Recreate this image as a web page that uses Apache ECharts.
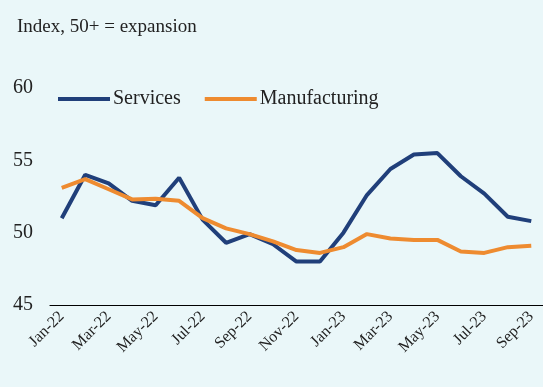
<!DOCTYPE html>
<html><head><meta charset="utf-8">
<script src="https://cdn.jsdelivr.net/npm/echarts@6/dist/echarts.min.js"></script>
<style>html,body{margin:0;padding:0;background:#EAF7F9;}#c{width:543px;height:387px;}</style>
</head><body><div id="c"></div>
<script>
const categories = ["Jan-22","Feb-22","Mar-22","Apr-22","May-22","Jun-22","Jul-22","Aug-22","Sep-22","Oct-22","Nov-22","Dec-22","Jan-23","Feb-23","Mar-23","Apr-23","May-23","Jun-23","Jul-23","Aug-23","Sep-23"];
const services = [51.0,54.0,53.4,52.2,51.9,53.8,50.9,49.3,49.9,49.2,48.0,48.0,50.0,52.6,54.4,55.4,55.5,53.9,52.7,51.1,50.8];
const manufacturing = [53.1,53.7,53.0,52.3,52.35,52.2,51.0,50.3,49.9,49.4,48.8,48.6,49.0,49.9,49.6,49.5,49.5,48.7,48.6,49.0,49.1];
const yTicks = [45,50,55,60];
const FONT = "Liberation Serif";
const chart = echarts.init(document.getElementById('c'));
chart.setOption({
  backgroundColor: '#EAF7F9',
  animation: false,
  title: {text: 'Index, 50+ = expansion', left: 12, top: 13, textStyle: {fontFamily: FONT, fontSize: 19, fontWeight: 'normal', color: '#222'}},
  legend: {
    left: 53, top: 84, itemWidth: 52, itemHeight: 4, itemGap: 24,
    icon: 'rect',
    textStyle: {fontFamily: FONT, fontSize: 20, color: '#222', padding: [0,0,0,-2]},
    data: ['Services','Manufacturing']
  },
  grid: {left: 50, top: 88, width: 497, height: 217},
  xAxis: {
    type: 'category', data: categories, boundaryGap: true,
    axisLine: {lineStyle: {color: '#000', width: 1.2}},
    axisTick: {show: false},
    axisLabel: {interval: 1, rotate: 45, fontFamily: FONT, fontSize: 16, color: '#222', margin: 9}
  },
  yAxis: {
    type: 'value', min: yTicks[0], max: yTicks[yTicks.length-1], interval: 5,
    splitLine: {show: false}, axisLine: {show: false}, axisTick: {show: false},
    axisLabel: {fontFamily: FONT, fontSize: 20, color: '#222', margin: 17}
  },
  series: [
    {name: 'Services', type: 'line', data: services, symbol: 'none', lineStyle: {width: 4, color: '#203F7A'}, itemStyle: {color: '#203F7A'}},
    {name: 'Manufacturing', type: 'line', data: manufacturing, symbol: 'none', lineStyle: {width: 4, color: '#EE8B30'}, itemStyle: {color: '#EE8B30'}}
  ]
});
</script></body></html>
